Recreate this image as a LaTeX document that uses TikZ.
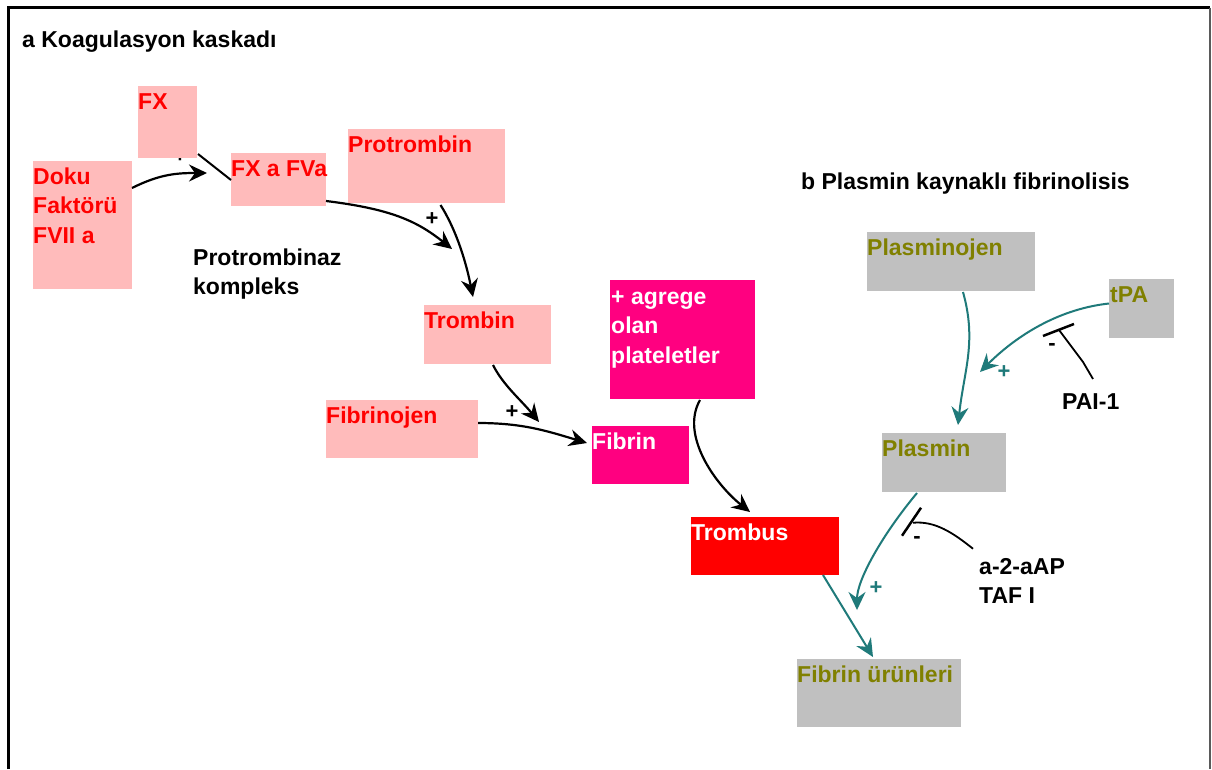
\documentclass[tikz,border=0pt]{standalone}
\usepackage{fontspec}
\setmainfont{Liberation Sans}
\usetikzlibrary{calc,arrows.meta}
\definecolor{pinkfill}{RGB}{255,187,187}
\definecolor{magfill}{RGB}{255,0,128}
\definecolor{redfill}{RGB}{255,0,0}
\definecolor{grayfill}{RGB}{192,192,192}
\definecolor{olivetxt}{RGB}{128,128,0}
\definecolor{tealline}{RGB}{31,122,122}
\definecolor{framegray}{RGB}{90,90,90}
\newcommand\fsz{\fontsize{23}{29.5}\selectfont\bfseries}
\newcommand\mlines[1]{\parbox[t]{220pt}{\raggedright #1}}
\tikzset{
  every node/.style={font=\fsz, inner sep=0pt},
  boxbase/.style={anchor=north west, inner sep=0pt, outer sep=0pt},
  pinkbox/.style={boxbase, fill=pinkfill},
  magbox/.style={boxbase, fill=magfill},
  redbox/.style={boxbase, fill=redfill},
  graybox/.style={boxbase, fill=grayfill},
  lbl/.style={anchor=base west},
  redtxt/.style={lbl, text=redfill},
  whitetxt/.style={lbl, text=white},
  olivetxt/.style={lbl, text=olivetxt},
  blacktxt/.style={lbl, text=black},
  blkarrow/.style={line width=2.2pt, black, -{Stealth[length=18pt,width=17pt,inset=6pt]}},
  tealarrow/.style={line width=2pt, tealline, -{Stealth[length=18pt,width=17pt,inset=6pt]}},
  inhib/.style={line width=1.8pt, black},
  inhibbar/.style={line width=2.5pt, black},
  plus/.style={font=\fontsize{22}{22}\selectfont\bfseries},
}
\begin{document}
\begin{tikzpicture}[x=1pt,y=-1pt]
\useasboundingbox (0,0) rectangle (1212,769);
\fill[white] (0,0) rectangle (1212,769);
% frame
\draw[line width=3pt, black] (8,769) -- (8,7.5) -- (1210,7.5);
\draw[line width=2pt, framegray] (1209.5,7.5) -- (1209.5,769);

% titles
\node[blacktxt] (titleA) at (22,47.5) {a Koagulasyon kaskadı};
\node[blacktxt] (titleB) at (801,189.5) {b Plasmin kaynaklı fibrinolisis};

% small plus mostly hidden under FX
\node[plus, text=black] (plusfx) at (180,156) {+};

% boxes
\node[pinkbox, minimum width=59pt, minimum height=72pt] (fx) at (138,86) {};
\node[pinkbox, minimum width=99pt, minimum height=128pt] (doku) at (33,161) {};
\node[pinkbox, minimum width=95pt, minimum height=53pt] (fxa) at (231,153) {};
\node[pinkbox, minimum width=157pt, minimum height=74pt] (protrombin) at (348,129) {};
\node[pinkbox, minimum width=127pt, minimum height=59pt] (trombin) at (424,305) {};
\node[pinkbox, minimum width=152pt, minimum height=58pt] (fibrinojen) at (326,400) {};
\node[magbox, minimum width=97pt, minimum height=58pt] (fibrin) at (592,426) {};
\node[magbox, minimum width=145pt, minimum height=119pt] (plat) at (610,280) {};
\node[redbox, minimum width=148pt, minimum height=58pt] (trombus) at (691,517) {};
\node[graybox, minimum width=168pt, minimum height=59pt] (plasminojen) at (867,232) {};
\node[graybox, minimum width=65pt, minimum height=59pt] (tpa) at (1109,279) {};
\node[graybox, minimum width=124pt, minimum height=59pt] (plasmin) at (882,433) {};
\node[graybox, minimum width=164pt, minimum height=68pt] (fu) at (797,659) {};

% box texts
\node[redtxt] (fx-t) at ($(fx.north west)+(0,23)$) {FX};
\node[redtxt] (doku-t) at ($(doku.north west)+(0,23)$) {\mlines{Doku\\Faktörü\\FVII a}};
\node[redtxt] (fxa-t) at ($(fxa.north west)+(0,23)$) {FX a FVa};
\node[redtxt] (protrombin-t) at ($(protrombin.north west)+(0,23)$) {Protrombin};
\node[redtxt] (trombin-t) at ($(trombin.north west)+(0,23)$) {Trombin};
\node[redtxt] (fibrinojen-t) at ($(fibrinojen.north west)+(0,23)$) {Fibrinojen};
\node[whitetxt] (fibrin-t) at ($(fibrin.north west)+(0,23)$) {Fibrin};
\node[whitetxt] (plat-t) at ($(plat.north west)+(1,24)$) {\mlines{+ agrege\\olan\\plateletler}};
\node[whitetxt] (trombus-t) at ($(trombus.north west)+(0,23)$) {Trombus};
\node[olivetxt] (plasminojen-t) at ($(plasminojen.north west)+(0,23)$) {Plasminojen};
\node[olivetxt] (tpa-t) at ($(tpa.north west)+(1,23)$) {tPA};
\node[olivetxt] (plasmin-t) at ($(plasmin.north west)+(0,23)$) {Plasmin};
\node[olivetxt] (fu-t) at ($(fu.north west)+(0,23)$) {Fibrin ürünleri};

% free labels
\node[blacktxt] (protkomp) at (193,265) {\mlines{Protrombinaz\\kompleks}};
\node[blacktxt] (pai) at (1062,409) {PAI-1};
\node[blacktxt] (a2ap) at (979,574) {\mlines{a-2-aAP\\TAF I}};

% free ends
\coordinate (c-doku) at ($(fxa.west)+(-24,-6.5)$);
\coordinate (c-fxa) at ($(trombin.north west)+(28,-56)$);
\coordinate (c-prot) at ($(trombin.north)+(-14.5,-8)$);
\coordinate (c-trom) at ($(fibrin.west)+(-53,-33)$);
\coordinate (c-fibj) at ($(fibrin.west)+(-5,-12)$);
\coordinate (c-plat) at ($(trombus.north)+(-15,-5)$);
\coordinate (c-plg) at ($(plasmin.north)+(14,-8)$);
\coordinate (c-tpa) at ($(plasmin.north)+(36,-61)$);
\coordinate (c-paistart) at ($(pai.north west)+(31,-14)$);
\coordinate (c-pai) at ($(pai.north west)+(-3,-63)$);
\coordinate (c-paibar1) at ($(pai.north west)+(-19,-57)$);
\coordinate (c-paibar2) at ($(pai.north west)+(12,-69)$);
\coordinate (c-plm) at ($(fu.north)+(-22,-49)$);
\coordinate (c-a2start) at ($(a2ap.north west)+(-6,-9)$);
\coordinate (c-a2) at ($(a2ap.north west)+(-66,-35)$);
\coordinate (c-a2bar1) at ($(a2ap.north west)+(-77,-22)$);
\coordinate (c-a2bar2) at ($(a2ap.north west)+(-58,-50)$);
\coordinate (c-trb) at ($(fu.north)+(-6,-2)$);

% coagulation connectors
\draw[blkarrow] ($(doku.north east)+(0,27)$) .. controls +(28,-14) and +(-30,0) .. (c-doku);
\draw[line width=2pt] ($(fx.south east)+(1,-4)$) -- ($(fxa.west)+(0,0.5)$);
\draw[blkarrow] ($(fxa.south east)+(0,-5)$) .. controls +(65,8) and +(-35,-28) .. (c-fxa);
\draw[blkarrow] ($(protrombin.south)+(14,2)$) .. controls +(14,22) and +(-8,-40) .. (c-prot);
\draw[blkarrow] ($(trombin.south)+(5.5,1)$) .. controls +(10,20) and +(-18,-22) .. (c-trom);
\draw[blkarrow] ($(fibrinojen.east)+(0,-6)$) .. controls +(45,0) and +(-40,-12) .. (c-fibj);
\draw[blkarrow] ($(plat.south)+(17.5,1)$) .. controls +(-20,35) and +(-35,-28) .. (c-plat);

% fibrinolysis connectors
\draw[tealarrow] ($(plasminojen.south)+(12,1)$) .. controls +(14,50) and +(6,-55) .. (c-plg);
\draw[tealarrow] ($(tpa.west)+(0,-5)$) .. controls +(-55,6) and +(32,-32) .. (c-tpa);
\draw[inhib] (c-paistart) -- ++(-10,-17) -- (c-pai);
\draw[inhibbar] (c-paibar1) -- (c-paibar2);
\draw[tealarrow] ($(plasmin.south)+(-27,1)$) .. controls +(-35,42) and +(0,-30) .. (c-plm);
\draw[inhib] (c-a2start) .. controls +(-20,-16) and +(22,-2) .. (c-a2);
\draw[inhibbar] (c-a2bar1) -- (c-a2bar2);
\draw[tealarrow] ($(trombus.south)+(58,0)$) -- (c-trb);

% signs
\node[plus, text=black] (plus1) at (432,219) {+};
\node[plus, text=black] (plus2) at (512,412) {+};
\node[plus, text=tealline] (plus3) at (1004,372) {+};
\node[plus, text=tealline] (plus4) at (876,588) {+};
\node[plus, text=black] (minus1) at (1052,347) {-};
\node[plus, text=black] (minus2) at (917,540) {-};
\end{tikzpicture}
\end{document}
